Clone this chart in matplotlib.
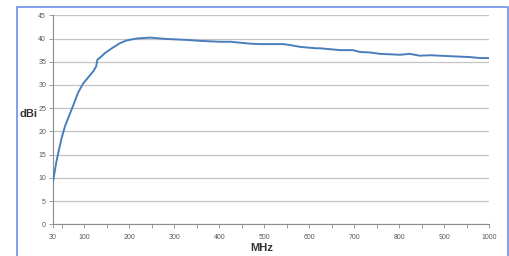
import matplotlib
matplotlib.use("Agg")
import matplotlib.pyplot as plt
from matplotlib.patches import Rectangle

# gain curve (MHz, dBi)
freq_mhz = [30, 37, 42, 49, 57, 66, 75, 86, 97, 109, 120, 126, 129, 135, 146,
            161, 179, 194, 216, 246, 283, 327, 357, 402, 425, 446, 468, 491,
            515, 542, 557, 580, 615, 624, 646, 669, 697, 713, 735, 757, 780,
            802, 824, 846, 870, 891, 913, 935, 958, 980, 1000]
gain_dbi = [9.2, 13.2, 15.5, 18.5, 21.2, 23.4, 25.6, 28.4, 30.3, 31.7, 33.0,
            34.0, 35.5, 35.9, 36.9, 37.9, 39.0, 39.6, 40.0, 40.2, 39.9, 39.7,
            39.5, 39.3, 39.3, 39.1, 38.9, 38.8, 38.8, 38.8, 38.6, 38.2, 37.9,
            37.9, 37.7, 37.5, 37.5, 37.1, 37.0, 36.7, 36.6, 36.5, 36.7, 36.3,
            36.4, 36.3, 36.2, 36.1, 36.0, 35.8, 35.8]

x_ticks = [30, 100, 200, 300, 400, 500, 600, 700, 800, 900, 1000]
y_ticks = [0, 5, 10, 15, 20, 25, 30, 35, 40, 45]

plt.rcParams['font.family'] = ['Liberation Sans', 'DejaVu Sans']

fig = plt.figure(figsize=(5.09, 2.56), dpi=100)
fig.patch.set_facecolor('white')
ax = fig.add_axes([53 / 509, 1 - 224.3 / 256, 436 / 509, 209 / 256])

ax.plot(freq_mhz, gain_dbi, color='#4a7ebb', linewidth=1.4, zorder=3)

ax.set_xlim(30, 1000)
ax.set_ylim(0, 45)
ax.set_xticks(x_ticks)
ax.set_xticks([50, 150, 250, 350, 450, 550, 650, 750, 850, 950], minor=True)
ax.set_yticks(y_ticks)
ax.grid(axis='y', color='#c4c4c4', linewidth=0.9)
ax.set_axisbelow(True)

for side in ['top', 'right']:
    ax.spines[side].set_visible(False)
for side in ['left', 'bottom']:
    ax.spines[side].set_color('#8c8c8c')
    ax.spines[side].set_linewidth(0.8)

ax.tick_params(axis='both', which='both', direction='out', length=3,
               width=0.6, color='#8c8c8c', labelsize=5, labelcolor='#595959')
ax.tick_params(axis='x', pad=4)
ax.tick_params(axis='y', pad=2)

ax.set_xlabel('MHz', fontsize=8, fontweight='bold', color='#333333')
ax.xaxis.set_label_coords(0.479, -0.112)
ax.xaxis.label.set_va('center')
ax.set_ylabel('dBi', fontsize=8, fontweight='bold', color='#333333', rotation=0)
ax.yaxis.set_label_coords(-0.056, 0.528)
ax.yaxis.label.set_va('center')
ax.yaxis.label.set_ha('center')

# blue frame round the chart
fig.patches.append(Rectangle((17 / 509, -0.1), 491 / 509, 1.1 - 7 / 256,
                             transform=fig.transFigure, fill=False,
                             edgecolor='#6d8fe6', linewidth=1.2))

fig.savefig('out.png', dpi=100)
